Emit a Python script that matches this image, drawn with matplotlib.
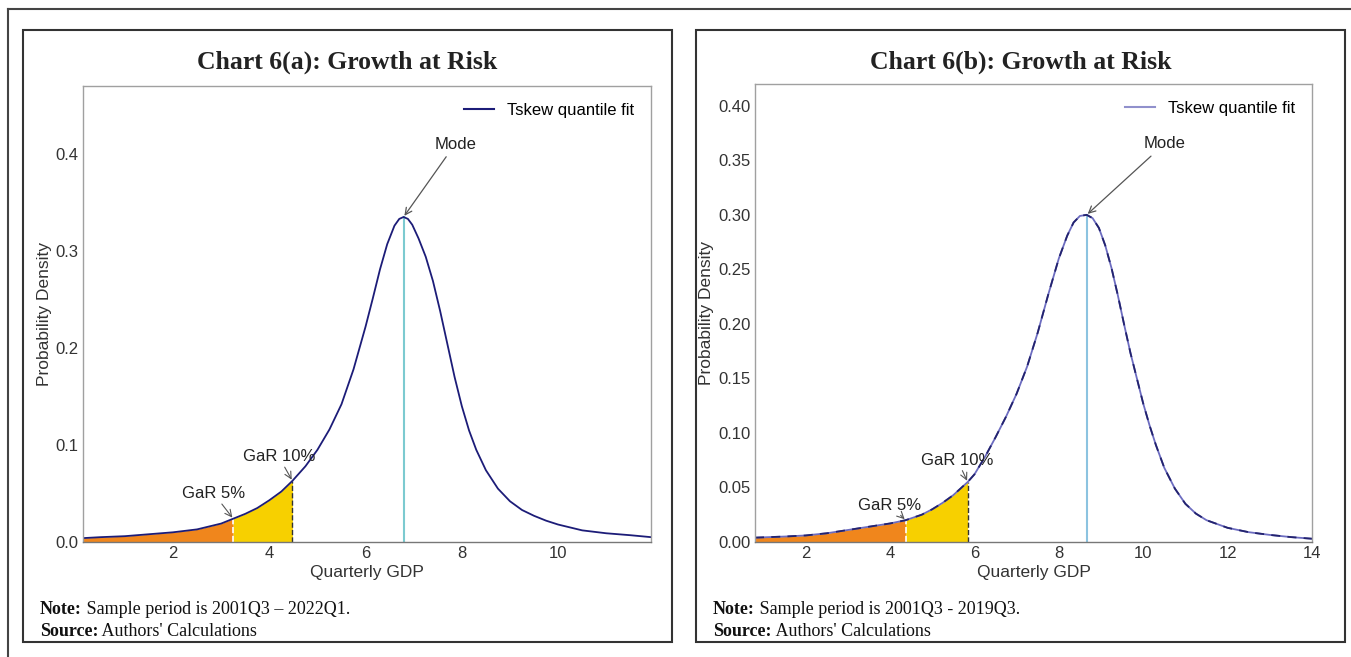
import numpy as np
import matplotlib
matplotlib.use("Agg")
import matplotlib.pyplot as plt
from matplotlib.patches import Rectangle
from matplotlib.lines import Line2D

# Chart 6(a): sample 2001Q3 - 2022Q1
gdp_a = [0.13, 0.5, 1.0, 1.5, 2.0, 2.5, 3.0, 3.25, 3.5, 3.75, 4.0, 4.25, 4.48, 4.75, 5.0,
         5.25, 5.5, 5.75, 6.0, 6.15, 6.3, 6.45, 6.6, 6.7, 6.79, 6.88, 6.97, 7.1, 7.25,
         7.4, 7.55, 7.7, 7.85, 8.0, 8.15, 8.3, 8.5, 8.75, 9.0, 9.25, 9.5, 9.75, 10.0,
         10.5, 11.0, 11.5, 11.93]
dens_a = [0.004, 0.005, 0.006, 0.008, 0.010, 0.013, 0.019, 0.024, 0.029, 0.035, 0.043,
          0.052, 0.063, 0.078, 0.095, 0.116, 0.142, 0.178, 0.222, 0.251, 0.281, 0.307,
          0.326, 0.333, 0.335, 0.333, 0.327, 0.313, 0.294, 0.269, 0.238, 0.204, 0.170,
          0.140, 0.115, 0.095, 0.074, 0.055, 0.042, 0.033, 0.027, 0.022, 0.018, 0.012,
          0.009, 0.007, 0.005]
gar5_a, gar10_a, mode_a = 3.25, 4.48, 6.79

# Chart 6(b): sample 2001Q3 - 2019Q3
gdp_b = [0.8, 1.5, 2.0, 2.5, 3.0, 3.5, 4.0, 4.37, 4.75, 5.0, 5.25, 5.5, 5.84, 6.0, 6.25,
         6.5, 6.75, 7.0, 7.25, 7.5, 7.75, 8.0, 8.2, 8.35, 8.5, 8.66, 8.8, 8.95, 9.1, 9.25,
         9.4, 9.55, 9.7, 9.85, 10.0, 10.15, 10.3, 10.5, 10.75, 11.0, 11.25, 11.5, 12.0,
         12.5, 13.0, 13.5, 14.0]
dens_b = [0.004, 0.005, 0.006, 0.008, 0.011, 0.014, 0.017, 0.020, 0.025, 0.030, 0.036,
          0.043, 0.055, 0.062, 0.078, 0.096, 0.115, 0.136, 0.161, 0.192, 0.227, 0.260,
          0.281, 0.293, 0.299, 0.300, 0.297, 0.288, 0.272, 0.251, 0.226, 0.199, 0.173,
          0.150, 0.127, 0.107, 0.089, 0.068, 0.049, 0.035, 0.026, 0.020, 0.013, 0.009,
          0.0065, 0.0045, 0.003]
gar5_b, gar10_b, mode_b = 4.37, 5.84, 8.66

titles = ["Chart 6(a): Growth at Risk", "Chart 6(b): Growth at Risk"]
notes = ["Sample period is 2001Q3 \u2013 2022Q1.", "Sample period is 2001Q3 - 2019Q3."]
source = "Authors' Calculations"

SANS = ["Liberation Sans", "DejaVu Sans"]
SERIF = ["Liberation Serif", "DejaVu Serif"]

W, H = 1351, 657
fig = plt.figure(figsize=(W / 100, H / 100), dpi=100)
fig.patch.set_facecolor("white")


def px(x0, y0, x1, y1):
    # pixel box (top-left origin) -> figure fraction rect
    return [x0 / W, 1 - y1 / H, (x1 - x0) / W, (y1 - y0) / H]


# outer frame lines
fig.add_artist(Line2D([8 / W, 1], [1 - 9 / H, 1 - 9 / H], color="#444", lw=1.5))
fig.add_artist(Line2D([8 / W, 8 / W], [0, 1 - 9 / H], color="#444", lw=1.5))


def panel(box, axrect, x, y, g5, g10, mode, xlim, ylim, yticks, yfmt, xticks,
          line_col, mode_col, leg_col, dashed, title, note, mode_txt, g10_txt, g5_txt):
    bx0, by0, bx1, by1 = box
    fig.add_artist(Rectangle((bx0 / W, 1 - by1 / H), (bx1 - bx0) / W, (by1 - by0) / H,
                             fill=False, ec="#333", lw=1.5))
    fig.text((bx0 + bx1) / 2 / W, 1 - 62 / H, title, ha="center", va="center",
             family=SERIF, fontweight="bold", fontsize=18.5, color="#222")

    ax = fig.add_axes(px(*axrect))
    x = np.array(x)
    y = np.array(y)
    m5 = x <= g5
    m10 = (x >= g5) & (x <= g10)
    ax.fill_between(x[m5], 0, y[m5], color="#f0861c", lw=0)
    ax.fill_between(x[m10], 0, y[m10], color="#f7d000", lw=0)
    y5 = y[x == g5][0]
    y10 = y[x == g10][0]
    ym = y[x == mode][0]
    ax.plot([g5, g5], [0, y5], color="white", ls="--", lw=1.2)
    ax.plot([g10, g10], [0, y10], color="#333", ls="--", lw=1.0)
    ax.plot([mode, mode], [0, ym], color=mode_col, lw=1.5)
    ax.plot(x, y, color=line_col, lw=1.3)
    if dashed:
        ax.plot(x, y, color="#23236e", lw=1.3, ls=(0, (5, 4)))
    ax.legend(handles=[Line2D([], [], color=leg_col, lw=1.5)], labels=["Tskew quantile fit"],
              loc="upper right", frameon=False, prop={"family": SANS, "size": 12},
              handlelength=1.8, borderaxespad=0.6)

    arr = dict(arrowstyle="->", color="#555", lw=0.9, shrinkA=2, shrinkB=1)
    ax.annotate("Mode", xy=(mode, ym), xytext=mode_txt, ha="center", va="center",
                family=SANS, fontsize=12, color="#222", arrowprops=arr)
    arr2 = dict(arrowstyle="->", color="#555", lw=0.8, shrinkA=0, shrinkB=1)
    ax.annotate("GaR 10%", xy=(g10, y10), xytext=g10_txt, ha="center", va="bottom",
                family=SANS, fontsize=12, color="#222", arrowprops=arr2)
    ax.annotate("GaR 5%", xy=(g5, y5), xytext=g5_txt, ha="center", va="bottom",
                family=SANS, fontsize=12, color="#222", arrowprops=arr2)

    ax.set_xlim(*xlim)
    ax.set_ylim(*ylim)
    ax.set_xticks(xticks)
    ax.set_yticks(yticks)
    ax.set_yticklabels([yfmt.format(v) for v in yticks])
    ax.tick_params(length=0, labelsize=12, colors="#333", pad=3)
    for lab in ax.get_xticklabels() + ax.get_yticklabels():
        lab.set_family(SANS)
    for s in ax.spines.values():
        s.set_color("#a0a0a0")
        s.set_linewidth(1.0)
    ax.spines["bottom"].set_color("#777")
    ax.set_xlabel("Quarterly GDP", family=SANS, fontsize=12.5, color="#333", labelpad=3)
    ax.set_ylabel("Probability Density", family=SANS, fontsize=12.5, color="#333", labelpad=3)

    # note and source lines: bold label followed by regular text
    r = fig.canvas.get_renderer()
    for i, (lab, txt) in enumerate([("Note:", " " + note), ("Source:", " " + source)]):
        yy = 1 - (609 + 22 * i) / H
        t = fig.text((bx0 + 17) / W, yy, lab, family=SERIF, fontweight="bold",
                     fontsize=13, va="center", color="#111")
        bb = t.get_window_extent(renderer=r)
        fig.text(bb.x1 / W, yy, txt, family=SERIF, fontsize=13, va="center", color="#111")
    return ax


panel((23, 30, 672, 642), (83, 86, 651, 542), gdp_a, dens_a, gar5_a, gar10_a, mode_a,
      (0.13, 11.93), (0, 0.47), [0, 0.1, 0.2, 0.3, 0.4], "{:.1f}", [2, 4, 6, 8, 10],
      "#1c1c78", "#7ccad0", "#1c1c78", False, titles[0], notes[0],
      (7.86, 0.41), (4.2, 0.08), (2.85, 0.042))

panel((696, 30, 1345, 642), (755, 84, 1312, 542), gdp_b, dens_b, gar5_b, gar10_b, mode_b,
      (0.8, 14), (0, 0.42), [0, 0.05, 0.1, 0.15, 0.2, 0.25, 0.3, 0.35, 0.4], "{:.2f}",
      [2, 4, 6, 8, 10, 12, 14],
      "#6c6cc0", "#8cc3e0", "#9090cc", True, titles[1], notes[1],
      (10.5, 0.365), (5.6, 0.068), (4.0, 0.027))

fig.savefig("out.png", dpi=100, facecolor="white")
